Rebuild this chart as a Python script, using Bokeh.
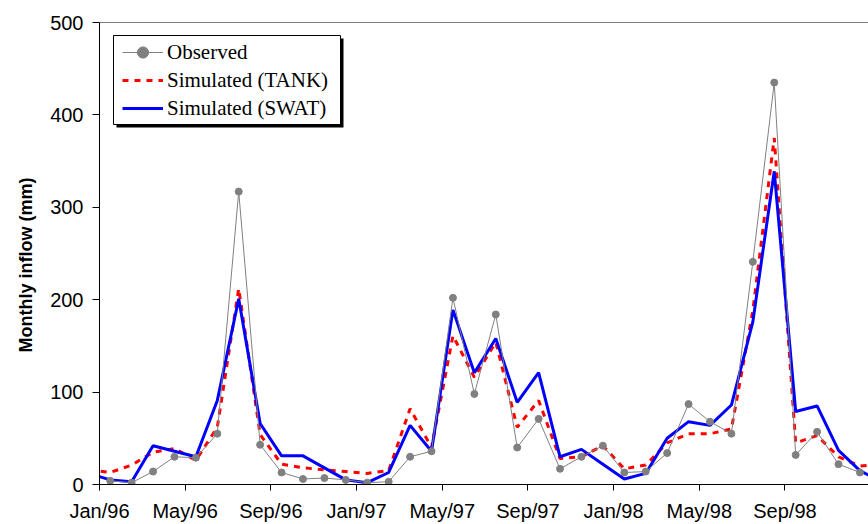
import numpy as np
from bokeh.plotting import figure
from bokeh.models import (FixedTicker, Legend, LegendItem, Title, Span,
                          BoxAnnotation)
from bokeh.embed import file_html
from bokeh.resources import INLINE

# Month labels shown on the x axis (every fourth month from Jan/96)
tick_labels = ["Jan/96", "May/96", "Sep/96", "Jan/97", "May/97",
               "Sep/97", "Jan/98", "May/98", "Sep/98"]
y_ticks = [0, 100, 200, 300, 400, 500]

# Observed monthly inflow (mm), Jan/96 .. Dec/98
observed = [4, 2, 14, 30, 29, 55, 317, 43, 13, 6, 7, 5,
            2, 3, 30, 36, 202, 98, 184, 40, 71, 17, 30, 42,
            13, 14, 34, 87, 68, 55, 241, 435, 32, 57, 22, 13]

# Simulated series, Dec/95 .. Jan/99
tank = [16, 13, 21, 35, 39, 26, 62, 212, 54, 22, 18, 16, 14,
        12, 15, 82, 40, 161, 116, 154, 62, 91, 28, 30, 42,
        17, 21, 45, 55, 55, 60, 188, 375, 45, 53, 30, 20, 22]
swat = [12, 5, 3, 42, 36, 30, 91, 201, 66, 31, 31, 18, 5,
        2, 13, 64, 36, 189, 121, 158, 89, 121, 30, 38, 22,
        6, 12, 50, 68, 64, 86, 176, 339, 79, 85, 37, 15, 3]

# x positions: month index, points centred within each month
x_obs = np.arange(len(observed)) + 0.5
x_sim = np.arange(len(swat)) - 0.5
tick_pos = [4 * k for k in range(len(tick_labels))]

p = figure(width=868, height=524, output_backend="svg", toolbar_location=None,
           x_range=(0, 35.9), y_range=(0, 500),
           min_border_left=99, min_border_right=0, min_border_top=22,
           min_border_bottom=40)
p.outline_line_color = None
p.background_fill_color = "white"
p.border_fill_color = "white"
p.xgrid.visible = False
p.ygrid.visible = False

for ax in (p.xaxis[0], p.yaxis[0]):
    ax.axis_line_color = "black"
    ax.axis_line_width = 1
    ax.major_tick_line_color = "black"
    ax.major_tick_in = 0
    ax.minor_tick_line_color = None
    ax.major_label_text_font = "Liberation Sans"
    ax.major_label_text_font_size = "20px"
    ax.major_label_text_color = "black"

p.xaxis.major_tick_out = 6
p.yaxis.major_tick_out = 7
p.xaxis.major_label_standoff = 9
p.yaxis.major_label_standoff = 9
p.xaxis.ticker = FixedTicker(ticks=tick_pos)
p.xaxis.major_label_overrides = {t: lab for t, lab in zip(tick_pos, tick_labels)}
p.yaxis.ticker = FixedTicker(ticks=y_ticks)

# top edge of the plot area
p.add_layout(Span(location=500, dimension="width", line_color="black",
                  line_width=1))

r_tank = p.line(x_sim, tank, line_color="#ff0000", line_width=3,
                line_dash="6 6")
r_swat = p.line(x_sim, swat, line_color="#0000ff", line_width=3)
r_obs_line = p.line(x_obs, observed, line_color="#808080", line_width=1)
r_obs_pts = p.scatter(x_obs, observed, size=7, fill_color="#808080",
                      line_color="#808080")

# legend frame with drop shadow
p.add_layout(BoxAnnotation(left=17, right=244, top=446, bottom=357,
                           left_units="screen", right_units="screen",
                           top_units="screen", bottom_units="screen",
                           fill_color="black", fill_alpha=1, line_color=None))
p.add_layout(BoxAnnotation(left=14, right=241, top=449, bottom=360,
                           left_units="screen", right_units="screen",
                           top_units="screen", bottom_units="screen",
                           fill_color="white", fill_alpha=1,
                           line_color="black", line_width=1, line_alpha=1))

legend = Legend(items=[
    LegendItem(label="Observed", renderers=[r_obs_line, r_obs_pts]),
    LegendItem(label="Simulated (TANK)", renderers=[r_tank]),
    LegendItem(label="Simulated (SWAT)", renderers=[r_swat]),
], location=(23, 362), orientation="vertical", padding=0, margin=0,
    spacing=0, glyph_width=41, glyph_height=28, label_height=28,
    label_standoff=4, label_text_font="Liberation Serif",
    label_text_font_size="21px", label_text_color="black",
    border_line_color=None, background_fill_alpha=0)
p.add_layout(legend)

# y-axis title in its own panel left of the tick labels
p.add_layout(Title(text="Monthly inflow (mm)", align="left", offset=132,
                   standoff=24, text_font="Liberation Sans",
                   text_font_style="bold", text_font_size="18px",
                   text_color="black"), "left")

open("out.html", "w").write(file_html(p, INLINE))
